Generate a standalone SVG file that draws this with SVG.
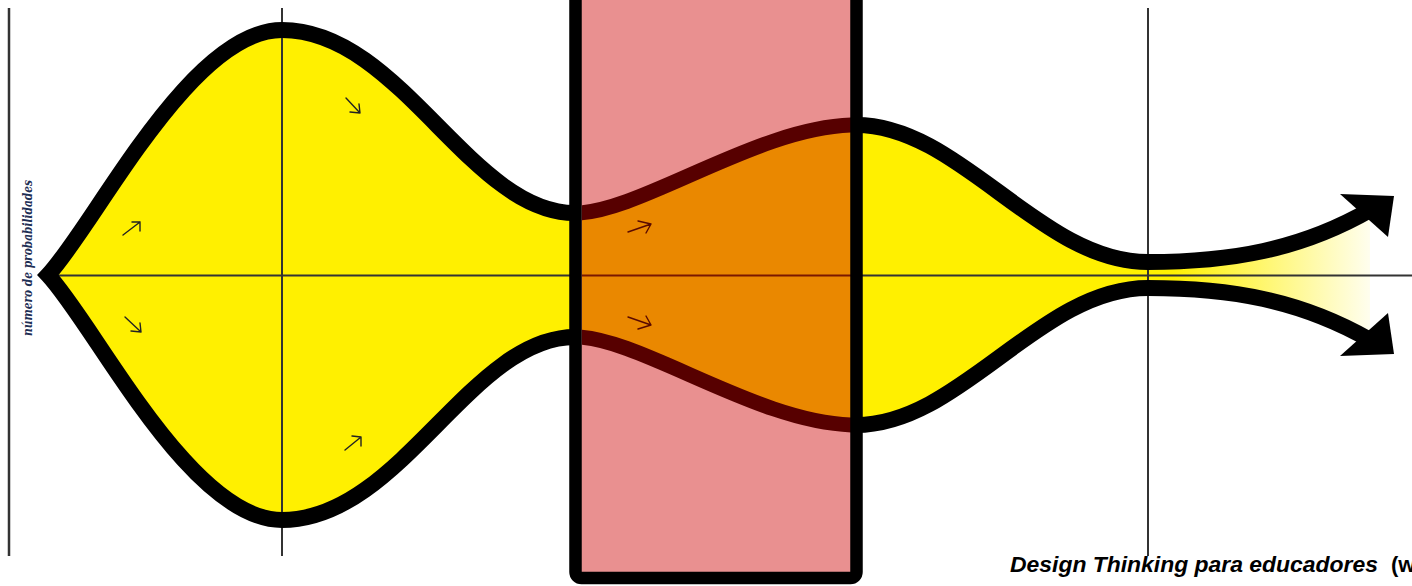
<svg xmlns="http://www.w3.org/2000/svg" width="1412" height="586" viewBox="0 0 1412 586">
  <style>
    .axis { stroke: #333; stroke-width: 2; fill: none; }
    .outline { stroke: #000; stroke-width: 16; fill: none; stroke-linejoin: miter; stroke-miterlimit: 10; }
    .inner { stroke: #570000; stroke-width: 15; fill: none; }
    .small { stroke: #222; stroke-width: 1.4; fill: none; stroke-linecap: round; stroke-linejoin: round; }
    .smallred { stroke: #5a0a00; stroke-width: 1.4; fill: none; stroke-linecap: round; stroke-linejoin: round; }
  </style>
  <defs>
    <linearGradient id="fade" gradientUnits="userSpaceOnUse" x1="0" y1="0" x2="1412" y2="0">
      <stop offset="0.83" stop-color="#FFF000"/>
      <stop offset="0.98" stop-color="#FFFFFF"/>
    </linearGradient>
    <clipPath id="rectClip">
      <rect x="582" y="0" width="269" height="573"/>
    </clipPath>
  </defs>
  <rect width="1412" height="586" fill="#fff"/>

  <g id="shape-fill">
    <path fill="url(#fade)" d="M48 275 C95 225 190 30 282 30 C400 30 470 213 575 213 C640 213 760 125 856 125 C960 125 1040 262 1148 262 C1230 262 1300 250 1370 210 L1370 340 C1300 300 1230 288 1148 288 C1040 288 960 425 856 425 C760 425 640 337 575 337 C470 337 400 520 282 520 C190 520 95 325 48 275 Z"/>
  </g>

  <g id="axes">
    <line class="axis" x1="9" y1="8" x2="9" y2="556" style="stroke-width:2.5"/>
    <line class="axis" x1="282" y1="8" x2="282" y2="556"/>
    <line class="axis" x1="1148" y1="8" x2="1148" y2="556"/>
    <line class="axis" x1="40" y1="275.5" x2="1412" y2="275.5"/>
  </g>

  <g id="outline">
    <path class="outline" d="M1370 210 C1300 250 1230 262 1148 262 C1040 262 960 125 856 125 C760 125 640 213 575 213 C470 213 400 30 282 30 C190 30 95 225 48 275 C95 325 190 520 282 520 C400 520 470 337 575 337 C640 337 760 425 856 425 C960 425 1040 288 1148 288 C1230 288 1300 300 1370 340"/>
    <polygon points="1340,194 1394,196 1388,237" fill="#000"/>
    <polygon points="1340,356 1394,354 1388,313" fill="#000"/>
  </g>

  <g id="focus-box">
    <rect x="575.5" y="-20" width="281" height="598" fill="#E99090"/>
    <g clip-path="url(#rectClip)">
      <path fill="#EA8800" d="M570 213 L575 213 C640 213 760 125 856 125 L856 425 C760 425 640 337 575 337 L570 337 Z"/>
      <path class="inner" d="M560 213 L575 213 C640 213 760 125 856 125 L870 125"/>
      <path class="inner" d="M560 337 L575 337 C640 337 760 425 856 425 L870 425"/>
      <line x1="575" y1="275.5" x2="860" y2="275.5" stroke="#7a1800" stroke-width="2"/>
    </g>
    <rect x="575.5" y="-20" width="281" height="598" rx="6" fill="none" stroke="#000" stroke-width="12.5"/>
  </g>

  <g id="flow-arrows">
    <path class="small" d="M123 235 L140 222 M132 222 L140 222 L140 231"/>
    <path class="small" d="M125 317 L141 332 M131 331 L141 332 L140 323"/>
    <path class="small" d="M346 98 L360 113 M350 112 L360 113 L359 104"/>
    <path class="small" d="M345 450 L361 437 M352 436 L361 437 L361 446"/>
    <path class="smallred" d="M628 232 L651 224 M638 221 L651 224 L646 233"/>
    <path class="smallred" d="M628 317 L651 325 M646 316 L651 325 L638 329"/>
  </g>

  <g id="labels">
    <text transform="translate(31.5 258) rotate(-90)" text-anchor="middle" font-family="DejaVu Serif, serif" font-weight="bold" font-style="italic" font-size="12" fill="#1F2F55" textLength="156" lengthAdjust="spacingAndGlyphs">número de probabilidades</text>
    <text x="1010" y="572" font-family="Liberation Sans, Arial, sans-serif" font-weight="bold" font-size="22" fill="#000"><tspan font-style="italic" textLength="368" lengthAdjust="spacingAndGlyphs">Design Thinking para educadores</tspan><tspan x="1391">(w</tspan></text>
  </g>
</svg>
